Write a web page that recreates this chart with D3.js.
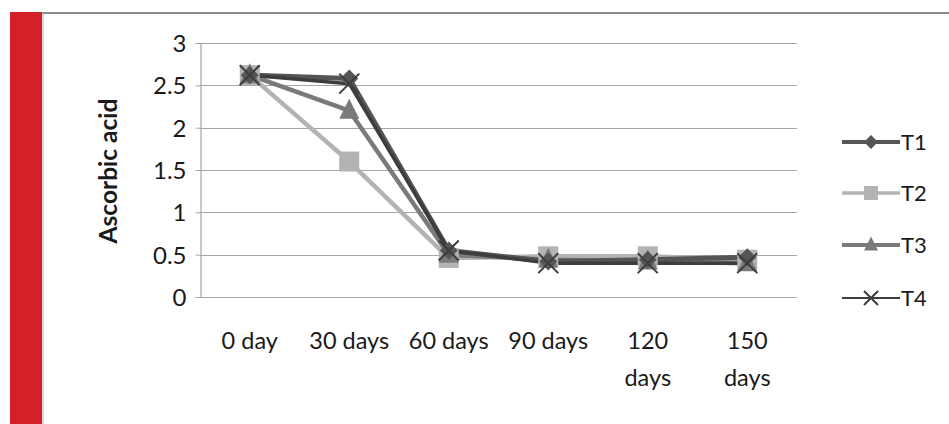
<!DOCTYPE html>
<html><head><meta charset="utf-8">
<script src="https://cdn.jsdelivr.net/npm/d3@7"></script>
<style>body{margin:0;background:#fff}svg{display:block}text{font-family:Lato,"Open Sans",sans-serif;fill:#1a1a1a}</style>
</head><body><svg id="c" width="949" height="424"></svg>
<script>
const categories = ["0 day", "30 days", "60 days", "90 days", "120 days", "150 days"];
const catLines = [["0 day"], ["30 days"], ["60 days"], ["90 days"], ["120", "days"], ["150", "days"]];
const seriesNames = ["T1", "T2", "T3", "T4"];
const T1 = [2.62, 2.58, 0.55, 0.42, 0.44, 0.47];
const T2 = [2.62, 1.60, 0.46, 0.48, 0.48, 0.44];
const T3 = [2.62, 2.20, 0.50, 0.44, 0.42, 0.40];
const T4 = [2.62, 2.52, 0.55, 0.40, 0.40, 0.40];
const yTicks = [0, 0.5, 1, 1.5, 2, 2.5, 3];
const yTitle = "Ascorbic acid";

const series = [
  {name: "T1", values: T1, color: "#555555", w: 5, lw: 4, marker: "diamond"},
  {name: "T2", values: T2, color: "#b3b3b3", w: 4.5, lw: 3.5, marker: "square"},
  {name: "T3", values: T3, color: "#7a7a7a", w: 4.5, lw: 4, marker: "triangle"},
  {name: "T4", values: T4, color: "#3d3d3d", w: 3.5, lw: 2, marker: "x"}
];

const svg = d3.select("#c");
svg.append("rect").attr("x", 10).attr("y", 12).attr("width", 32).attr("height", 412).attr("fill", "#d42028");
svg.append("line").attr("x1", 42).attr("x2", 949).attr("y1", 13).attr("y2", 13).attr("stroke", "#8a8a8a").attr("stroke-width", 2);
svg.append("line").attr("x1", 43).attr("x2", 43).attr("y1", 12).attr("y2", 424).attr("stroke", "#b0b0b0").attr("stroke-width", 1);

const x = d3.scaleBand().domain(categories).range([200, 797]);
const y = d3.scaleLinear().domain([0, 3]).range([297, 43]);

const g = svg.append("g");
g.selectAll(".grid").data(yTicks).join("line")
  .attr("x1", 200).attr("x2", 797)
  .attr("y1", d => Math.round(y(d)) + 0.5).attr("y2", d => Math.round(y(d)) + 0.5)
  .attr("stroke", "#a6a6a6").attr("stroke-width", 1.2);
const yAxis = d3.axisLeft(y).tickValues(yTicks).tickSize(5).tickPadding(9).tickFormat(d => d);
const ya = svg.append("g").attr("transform", "translate(200.5,0)").call(yAxis);
ya.select(".domain").attr("stroke", "#a6a6a6").attr("stroke-width", 1.2);
ya.selectAll(".tick line").attr("stroke", "#a6a6a6");
ya.selectAll(".tick text").attr("font-size", 24).attr("fill", "#1a1a1a").attr("dy", "0.36em");

const xl = svg.append("g");
categories.forEach((c, i) => {
  const cx = x(c) + x.bandwidth() / 2;
  const t = xl.append("text").attr("x", cx).attr("y", 349)
    .attr("text-anchor", "middle").attr("font-size", 23.5);
  catLines[i].forEach((s, j) => {
    t.append("tspan").attr("x", cx).attr("dy", j === 0 ? 0 : 37).text(s);
  });
});

svg.append("text").attr("transform", "translate(117,171) rotate(-90)")
  .attr("text-anchor", "middle").attr("font-size", 24.5).attr("font-weight", "bold").text(yTitle);

function drawMarker(sel, type, cx, cy, color, s) {
  if (type === "diamond") {
    sel.append("path").attr("d", `M${cx},${cy - s}L${cx + s},${cy}L${cx},${cy + s}L${cx - s},${cy}Z`).attr("fill", color);
  } else if (type === "square") {
    sel.append("rect").attr("x", cx - s).attr("y", cy - s).attr("width", 2 * s).attr("height", 2 * s).attr("fill", color);
  } else if (type === "triangle") {
    sel.append("path").attr("d", `M${cx},${cy - s * 1.2}L${cx + s},${cy + s * 0.8}L${cx - s},${cy + s * 0.8}Z`).attr("fill", color);
  } else {
    sel.append("path").attr("d", `M${cx - s},${cy - s}L${cx + s},${cy + s}M${cx + s},${cy - s}L${cx - s},${cy + s}`)
      .attr("stroke", color).attr("stroke-width", 2).attr("fill", "none");
  }
}

const line = d3.line().x((d, i) => x(categories[i]) + x.bandwidth() / 2).y(d => y(d));
[1, 2, 0, 3].forEach(k => {
  const s = series[k];
  g.append("path").datum(s.values).attr("d", line).attr("fill", "none")
    .attr("stroke", s.color).attr("stroke-width", s.w).attr("stroke-linejoin", "round");
});
[1, 2, 0, 3].forEach(k => {
  const s = series[k];
  s.values.forEach((v, i) => {
    const sz = s.marker === "diamond" ? 9 : 10;
    drawMarker(g, s.marker, x(categories[i]) + x.bandwidth() / 2, y(v), s.color, sz);
  });
});

const legY = [142, 193, 245, 298];
series.forEach((s, i) => {
  const lg = svg.append("g");
  lg.append("line").attr("x1", 842).attr("x2", 900).attr("y1", legY[i]).attr("y2", legY[i])
    .attr("stroke", s.color).attr("stroke-width", s.lw);
  drawMarker(lg, s.marker, 871, legY[i], s.color, 7);
  lg.append("text").attr("x", 901).attr("y", legY[i]).attr("dy", "0.36em").attr("font-size", 22).text(s.name);
});
</script></body></html>
